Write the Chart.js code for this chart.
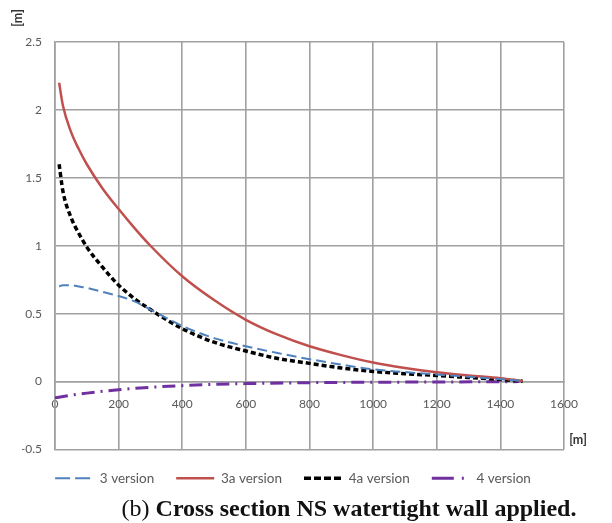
<!DOCTYPE html>
<html>
<head>
<meta charset="utf-8">
<script src="https://cdn.jsdelivr.net/npm/chart.js@4"></script>
<style>
	body { margin: 0; background: #fff; }
	#wrap { position: relative; width: 612px; height: 523px; }
	#caption {
		position: absolute; left: 0; width: 698px; top: 496px;
		text-align: center; font-family: "Liberation Serif", serif; font-size: 24px;
		line-height: 24px; color: #111;
	}
	#caption b { font-weight: bold; }
</style>
</head>
<body>
<div id="wrap">
	<canvas id="sectionChart" width="612" height="523"></canvas>
	<div id="caption">(b) <b>Cross section NS watertight wall applied.</b></div>
</div>
<script>
// distance along the section [m]
const distances = [13, 25, 50, 75, 100, 150, 200, 250, 300, 400, 500, 600, 700, 800, 900, 1000, 1100, 1200, 1300, 1400, 1470];
const version3 = [0.70, 0.71, 0.71, 0.70, 0.69, 0.66, 0.63, 0.59, 0.53, 0.41, 0.32, 0.26, 0.21, 0.165, 0.125, 0.09, 0.07, 0.052, 0.035, 0.018, 0.005];
const version3a = [2.20, 2.03, 1.84, 1.71, 1.60, 1.42, 1.27, 1.13, 1.00, 0.775, 0.60, 0.455, 0.345, 0.26, 0.195, 0.14, 0.10, 0.068, 0.045, 0.025, 0.005];
const version4a = [1.60, 1.40, 1.21, 1.09, 0.99, 0.84, 0.71, 0.61, 0.53, 0.39, 0.29, 0.225, 0.17, 0.134, 0.10, 0.075, 0.058, 0.045, 0.03, 0.015, 0.003];

const distances4 = [0, 50, 100, 200, 300, 400, 500, 600, 800, 1000, 1200, 1400, 1460];
const version4 = [-0.12, -0.10, -0.085, -0.06, -0.042, -0.03, -0.02, -0.015, -0.008, -0.005, -0.003, -0.001, 0];

const seriesLabels = ['3 version', '3a version', '4a version', '4 version'];
const xTicks = [0, 200, 400, 600, 800, 1000, 1200, 1400, 1600];
const yTicks = [-0.5, 0, 0.5, 1, 1.5, 2, 2.5];

function toPoints(xs, ys) {
	return xs.map((x, i) => ({ x: x, y: ys[i] }));
}

// little dash patterns for the legend swatches
const legendDash = [[15, 5], [], [7, 3], [22, 8, 2, 30]];

const unitLabels = {
	id: 'unitLabels',
	afterDraw(chart) {
		const ctx = chart.ctx;
		ctx.save();
		ctx.fillStyle = '#333';
		ctx.font = 'bold 12.5px Lato';
		ctx.textAlign = 'center';
		ctx.textBaseline = 'middle';
		ctx.fillText('[m]', 578, 440);
		ctx.translate(18, 18);
		ctx.rotate(-Math.PI / 2);
		ctx.fillText('[m]', 0, 0);
		ctx.restore();
	}
};

function createChart(ctx) {
	new Chart(ctx, {
		type: 'line',
		data: {
			datasets: [{
				label: seriesLabels[0],
				data: toPoints(distances, version3),
				borderColor: '#4F81BD',
				borderWidth: 2,
				borderDash: [10, 5]
			}, {
				label: seriesLabels[1],
				data: toPoints(distances, version3a),
				borderColor: '#C0504D',
				borderWidth: 2.5
			}, {
				label: seriesLabels[2],
				data: toPoints(distances, version4a),
				borderColor: '#000',
				borderWidth: 3.5,
				borderDash: [5, 3]
			}, {
				label: seriesLabels[3],
				data: toPoints(distances4, version4),
				borderColor: '#7030A0',
				borderWidth: 3,
				borderDash: [13, 6, 2, 6]
			}]
		},
		options: {
			responsive: false,
			animation: false,
			elements: {
				point: { radius: 0 },
				line: { tension: 0.4, cubicInterpolationMode: 'monotone', fill: false }
			},
			layout: { padding: { left: 22, right: 48, top: 42, bottom: 28 } },
			scales: {
				x: {
					type: 'linear',
					position: { y: 0 },
					min: 0,
					max: 1600,
					afterBuildTicks: scale => { scale.ticks = xTicks.map(v => ({ value: v })); },
					grid: { color: '#a0a0a0', lineWidth: 1.6, drawTicks: false },
					border: { color: '#a0a0a0', width: 1.6 },
					ticks: {
						color: '#595959', font: { family: 'Lato', size: 12 }, padding: 15, maxRotation: 0,
						callback: v => String(v)
					}
				},
				y: {
					min: -0.5,
					max: 2.5,
					afterBuildTicks: scale => { scale.ticks = yTicks.map(v => ({ value: v })); },
					afterFit: scale => { scale.width = 33; },
					grid: { color: '#a0a0a0', lineWidth: 1.6, drawTicks: false },
					border: { color: '#a0a0a0', width: 1.6 },
					ticks: {
						color: '#595959', font: { family: 'Lato', size: 12 }, padding: 13,
						callback: v => String(v)
					}
				}
			},
			plugins: {
				tooltip: { enabled: false },
				legend: {
					position: 'bottom',
					labels: {
						color: '#595959',
						font: { family: 'Lato', size: 13.5 },
						padding: 22,
						usePointStyle: true,
						pointStyleWidth: 38,
						generateLabels: chart => Chart.defaults.plugins.legend.labels.generateLabels(chart).map((item, i) => {
							item.pointStyle = 'line';
							item.lineDash = legendDash[i];
							item.lineCap = 'butt';
							return item;
						})
					}
				}
			}
		},
		plugins: [unitLabels]
	});
}

document.addEventListener('DOMContentLoaded', function() {
	createChart(document.getElementById('sectionChart').getContext('2d'));
});
</script>
</body>
</html>
